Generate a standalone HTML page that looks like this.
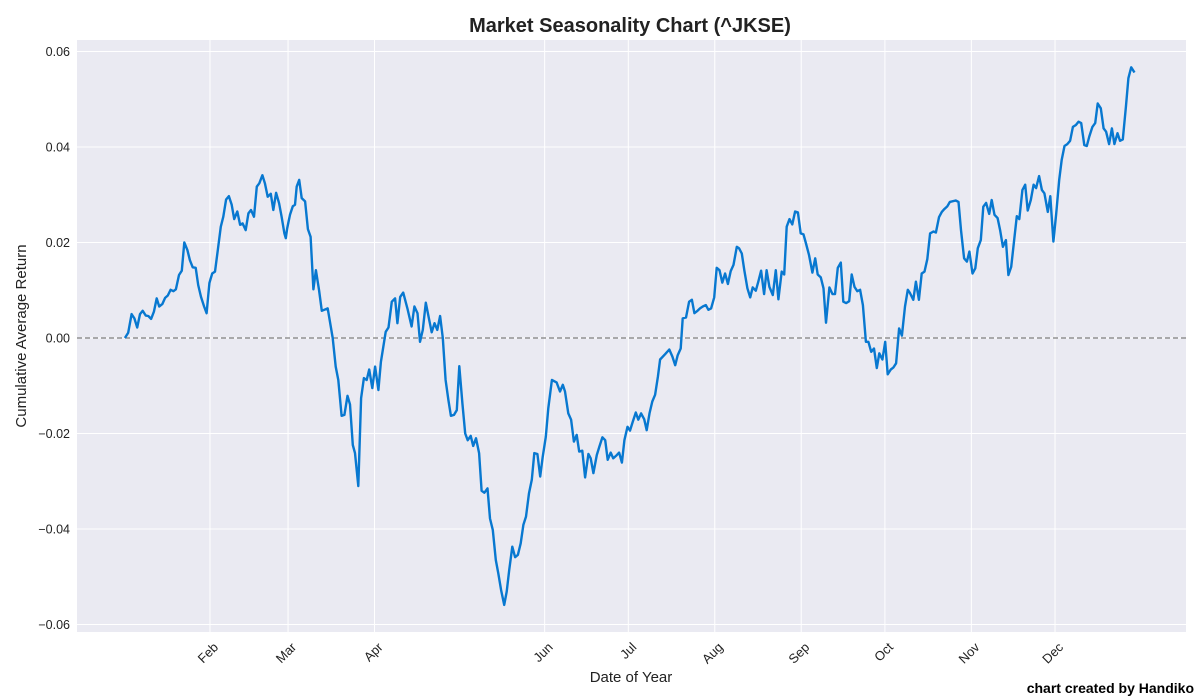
<!DOCTYPE html>
<html><head><meta charset="utf-8"><style>
html,body{margin:0;padding:0;background:#fff;width:1200px;height:700px;overflow:hidden}
svg{display:block;font-family:"Liberation Sans",Arial,sans-serif}
</style></head><body>
<svg id="chart" width="1200" height="700" viewBox="0 0 1200 700">
<rect x="77" y="40" width="1109" height="592" fill="#eaeaf2"/>
<g id="grid"></g>
<g id="series"></g>
<g id="axes"></g>
<text x="630" y="32" text-anchor="middle" font-size="20" font-weight="bold" fill="#222">Market Seasonality Chart (^JKSE)</text>
<text x="631" y="682" text-anchor="middle" font-size="15" fill="#222">Date of Year</text>
<text transform="translate(26,336) rotate(-90)" text-anchor="middle" font-size="15" fill="#222">Cumulative Average Return</text>
<text x="1194" y="693" text-anchor="end" font-size="14" font-weight="bold" fill="#000">chart created by Handiko</text>
</svg>
<script>
const monthLabels=["Feb","Mar","Apr","Jun","Jul","Aug","Sep","Oct","Nov","Dec"];
const monthDays=[32,60,91,152,182,213,244,274,305,335];
const yTicks=[0.06,0.04,0.02,0,-0.02,-0.04,-0.06];
const yTickLabels=["0.06","0.04","0.02","0.00","\u22120.02","\u22120.04","\u22120.06"];
const days=[1.5,2.7,3.9,4.9,5.9,6.9,7.9,9.0,9.9,10.9,11.9,12.9,13.8,14.9,15.9,16.9,17.9,18.9,19.8,20.9,21.9,22.8,23.9,24.8,25.8,26.9,27.8,28.8,29.9,30.8,31.8,32.8,33.8,34.8,35.9,36.8,37.8,38.8,39.8,40.7,41.8,42.8,43.7,44.8,45.8,46.7,47.8,48.8,49.7,50.8,51.7,52.7,53.8,54.7,55.7,56.8,57.7,58.7,59.2,59.7,60.7,61.7,62.5,63.1,64.0,64.9,66.1,67.1,68.1,69.1,70.0,71.1,72.1,74.2,75.1,76.0,77.1,78.0,79.2,80.2,81.3,82.2,83.2,84.0,85.2,86.2,87.2,88.2,89.1,90.2,91.2,92.4,93.3,95.0,96.0,97.2,98.4,99.2,100.2,101.3,102.8,104.3,105.3,106.4,107.3,108.3,109.4,110.6,111.5,112.5,113.5,114.5,115.5,116.5,117.5,118.4,119.5,120.5,121.4,122.5,123.5,124.4,125.5,126.4,127.4,128.5,129.4,130.4,131.5,132.4,133.4,134.5,135.4,136.4,137.5,138.4,139.3,140.4,141.4,142.4,143.4,144.4,145.3,146.4,147.4,148.3,149.4,150.4,151.3,152.4,153.3,154.6,156.3,157.5,158.5,159.3,160.5,161.5,162.5,163.5,164.4,165.5,166.5,167.7,168.5,169.5,170.7,171.6,172.7,173.7,174.6,175.7,176.6,177.6,178.7,179.7,180.6,181.7,182.6,183.6,184.7,185.6,186.6,187.7,188.6,189.6,190.6,191.6,192.6,193.4,195.2,196.7,197.8,198.8,199.7,200.8,201.5,202.7,203.8,204.8,205.7,206.8,207.7,208.7,209.8,210.7,211.7,212.8,213.7,214.7,215.7,216.7,217.7,218.7,219.7,220.9,221.7,222.7,223.6,224.7,225.7,226.6,227.7,228.6,229.6,230.7,231.6,232.6,233.8,234.9,235.8,237.0,237.9,238.8,239.8,240.8,241.8,242.8,243.8,244.8,245.7,246.8,248.0,249.0,249.9,251.0,252.0,252.9,254.1,255.2,256.1,257.1,258.2,259.1,260.1,261.2,262.1,263.1,264.1,265.1,266.1,267.2,268.1,269.1,270.1,271.1,272.0,273.1,274.1,275.0,276.1,277.0,278.0,279.1,280.1,281.2,282.2,283.0,284.2,285.1,286.2,287.2,288.2,289.2,290.2,291.4,292.3,293.4,294.4,295.3,296.4,297.3,299.4,300.4,301.3,302.4,303.4,304.3,305.4,306.4,307.3,308.4,309.3,310.3,311.4,312.3,313.3,314.4,315.3,316.3,317.4,318.3,319.3,320.3,321.3,322.2,323.3,324.3,325.2,326.3,327.3,328.2,329.3,330.3,331.2,332.4,333.3,334.4,335.4,336.5,337.4,338.4,339.4,340.4,341.4,342.5,343.4,344.4,345.5,346.4,347.3,348.4,349.4,350.3,351.4,352.4,353.3,354.4,355.4,356.3,357.4,358.3,359.3,360.4,361.3,362.3,363.5];
const returns=[0,0.0011,0.0050,0.0041,0.0022,0.0050,0.0057,0.0047,0.0046,0.0040,0.0055,0.0083,0.0066,0.0071,0.0084,0.0089,0.0101,0.0098,0.0102,0.0132,0.0141,0.0200,0.0184,0.0163,0.0148,0.0147,0.0111,0.0086,0.0066,0.0052,0.0115,0.0135,0.0139,0.0184,0.0233,0.0254,0.0290,0.0297,0.0279,0.0249,0.0265,0.0237,0.0240,0.0226,0.0261,0.0268,0.0254,0.0317,0.0324,0.0341,0.0324,0.0296,0.0302,0.0268,0.0304,0.0282,0.0254,0.0219,0.0209,0.0230,0.0258,0.0276,0.0279,0.0317,0.0331,0.0293,0.0286,0.0228,0.0212,0.0102,0.0142,0.0101,0.0057,0.0062,0.0031,0,-0.0060,-0.0088,-0.0163,-0.0161,-0.0121,-0.0139,-0.0224,-0.0241,-0.0310,-0.0126,-0.0084,-0.0088,-0.0066,-0.0105,-0.0060,-0.0109,-0.0050,0.0013,0.0022,0.0076,0.0083,0.0031,0.0086,0.0095,0.0062,0.0024,0.0066,0.0052,-0.0008,0.0017,0.0074,0.0038,0.0012,0.0031,0.0017,0.0046,0,-0.0088,-0.0130,-0.0163,-0.0161,-0.0151,-0.0059,-0.0137,-0.0200,-0.0214,-0.0205,-0.0226,-0.0210,-0.0241,-0.0320,-0.0324,-0.0315,-0.0378,-0.0402,-0.0465,-0.0493,-0.0528,-0.0559,-0.0531,-0.0486,-0.0437,-0.0459,-0.0454,-0.0430,-0.0391,-0.0374,-0.0325,-0.0297,-0.0241,-0.0243,-0.0290,-0.0249,-0.0207,-0.0147,-0.0088,-0.0093,-0.0112,-0.0098,-0.0112,-0.0158,-0.0171,-0.0217,-0.0203,-0.0238,-0.0236,-0.0292,-0.0243,-0.0252,-0.0283,-0.0245,-0.0228,-0.0208,-0.0214,-0.0255,-0.0240,-0.0252,-0.0247,-0.0240,-0.0261,-0.0214,-0.0186,-0.0194,-0.0175,-0.0156,-0.0171,-0.0158,-0.0170,-0.0193,-0.0158,-0.0133,-0.0119,-0.0081,-0.0045,-0.0034,-0.0024,-0.0039,-0.0057,-0.0036,-0.0022,0.0041,0.0043,0.0076,0.0080,0.0052,0.0057,0.0062,0.0066,0.0069,0.0059,0.0062,0.0085,0.0147,0.0142,0.0116,0.0135,0.0113,0.0140,0.0153,0.0191,0.0188,0.0177,0.0142,0.0104,0.0085,0.0106,0.0099,0.0118,0.0141,0.0092,0.0142,0.0107,0.0090,0.0142,0.0081,0.0139,0.0133,0.0233,0.0249,0.0238,0.0265,0.0263,0.0219,0.0217,0.0198,0.0174,0.0137,0.0167,0.0133,0.0127,0.0104,0.0032,0.0106,0.0092,0.0092,0.0147,0.0158,0.0076,0.0073,0.0077,0.0133,0.0107,0.0098,0.0101,0.0069,-0.0008,-0.0008,-0.0029,-0.0022,-0.0063,-0.0032,-0.0045,-0.0008,-0.0076,-0.0066,-0.0062,-0.0053,0.0020,0.0005,0.0066,0.0101,0.0094,0.0080,0.0118,0.0080,0.0135,0.0139,0.0165,0.0219,0.0223,0.0221,0.0253,0.0264,0.0270,0.0276,0.0285,0.0288,0.0285,0.0226,0.0167,0.0160,0.0181,0.0135,0.0146,0.0188,0.0205,0.0275,0.0283,0.0260,0.0289,0.0258,0.0251,0.0226,0.0191,0.0205,0.0132,0.0149,0.0202,0.0255,0.0249,0.0310,0.0321,0.0267,0.0289,0.0321,0.0314,0.0339,0.0310,0.0303,0.0264,0.0297,0.0202,0.0258,0.0331,0.0373,0.0402,0.0406,0.0413,0.0442,0.0446,0.0453,0.0450,0.0404,0.0402,0.0422,0.0442,0.0450,0.0491,0.0481,0.0439,0.0432,0.0406,0.0439,0.0406,0.0429,0.0413,0.0416,0.0484,0.0544,0.0567,0.0556];

const NS="http://www.w3.org/2000/svg";
function xScale(d){return 123.5+(d-1)*2.789;}
function yScale(v){return 338-v*4775;}
function mk(tag,attrs,parent){const e=document.createElementNS(NS,tag);for(const k in attrs)e.setAttribute(k,attrs[k]);parent.appendChild(e);return e;}
const grid=document.getElementById('grid'),axes=document.getElementById('axes'),series=document.getElementById('series');
yTicks.forEach((t,i)=>{
  const y=yScale(t);
  const l=mk('line',{x1:77,x2:1186,y1:y,y2:y,stroke:'#fff','stroke-width':1},grid);
  
  
  const tx=mk('text',{x:70,y:y+4.5,'text-anchor':'end','font-size':12.5,fill:'#222'},axes);
  tx.textContent=yTickLabels[i];
  
  
});
monthDays.forEach((d,i)=>{
  const x=xScale(d);
  const l=mk('line',{x1:x,x2:x,y1:40,y2:632,stroke:'#fff','stroke-width':1},grid);
  
  
  const tx=mk('text',{transform:`translate(${x+9},${648}) rotate(-45)`,'text-anchor':'end','font-size':13,fill:'#222'},axes);
  tx.textContent=monthLabels[i];
  
  
});
const zl=mk('line',{x1:77,x2:1186,y1:yScale(0),y2:yScale(0),stroke:'#808080','stroke-width':1.2,'stroke-dasharray':'5,3'},series);


let dstr=days.map((d,i)=>(i?'L':'M')+xScale(d).toFixed(1)+','+yScale(returns[i]).toFixed(1)).join('');
const p=mk('path',{d:dstr,fill:'none',stroke:'#0878d0','stroke-width':2.4,'stroke-linejoin':'round'},series);


</script>
</body></html>
